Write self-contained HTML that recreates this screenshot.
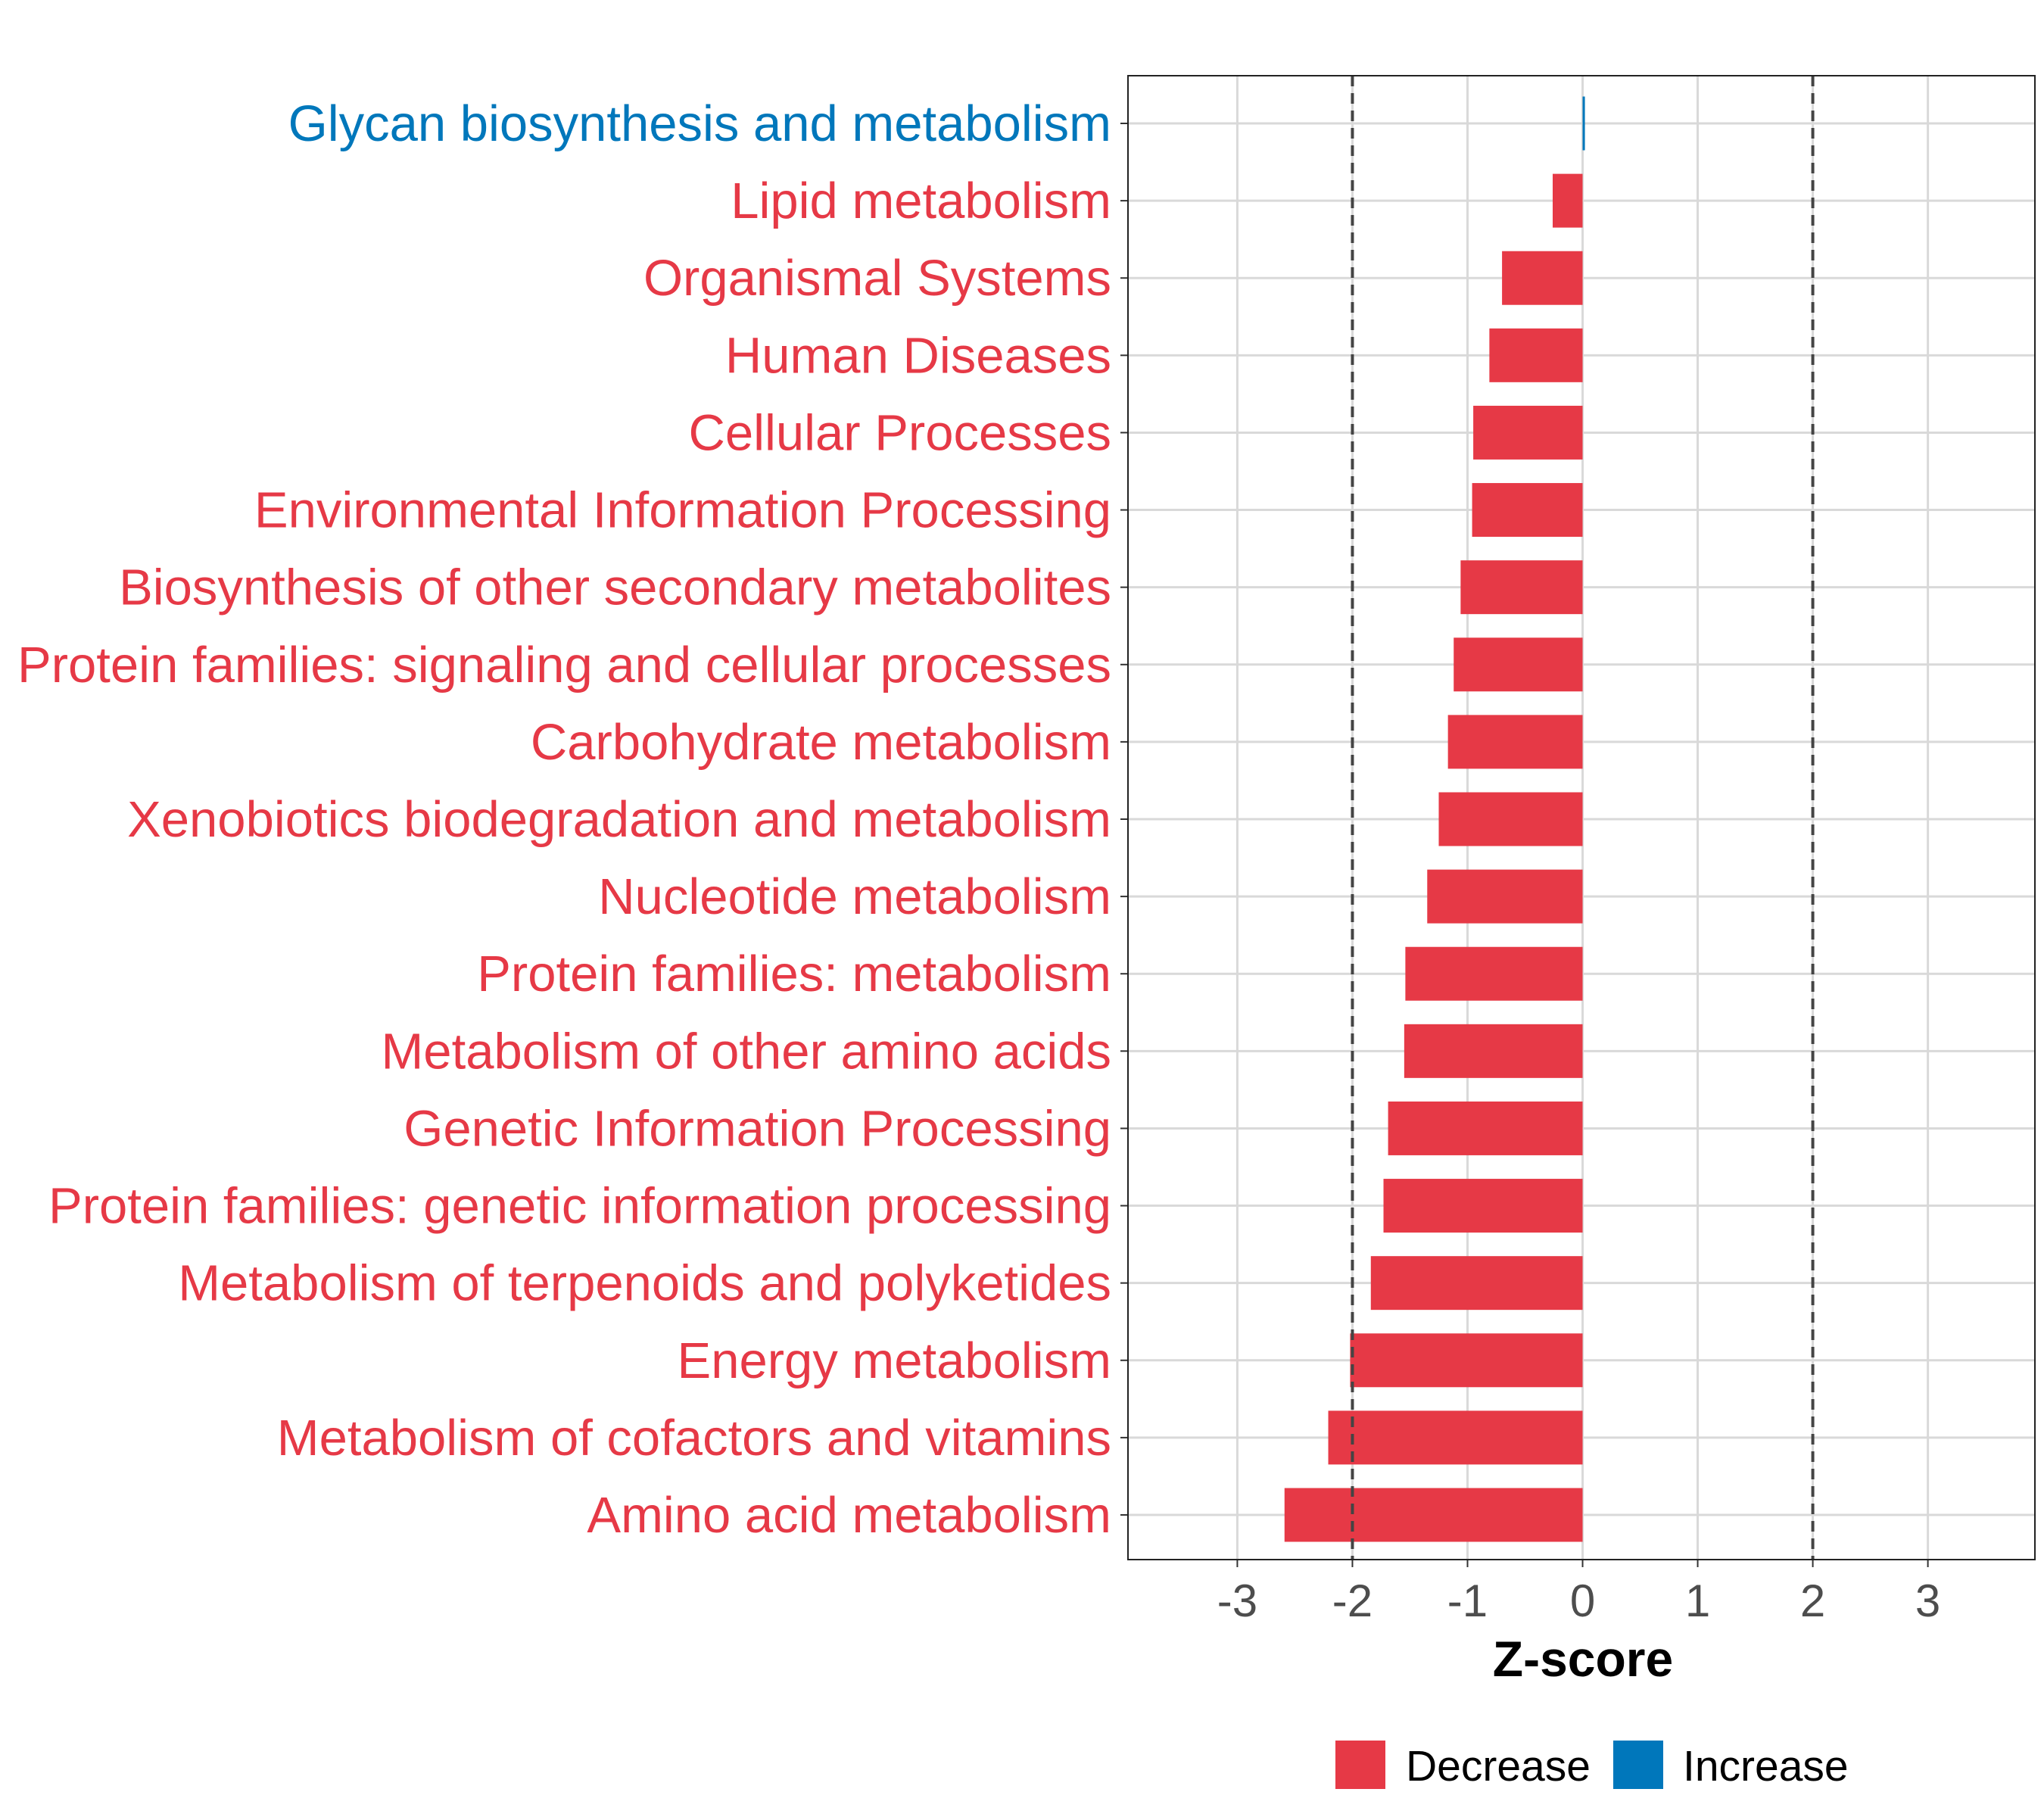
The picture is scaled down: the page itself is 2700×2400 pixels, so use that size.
<!DOCTYPE html>
<html><head><meta charset="utf-8"><style>
html,body{margin:0;padding:0;background:#fff}
svg{display:block;font-family:"Liberation Sans",Arial,sans-serif}
</style></head><body>
<svg id="chart" width="2700" height="2400" viewBox="0 0 2700 2400" xmlns="http://www.w3.org/2000/svg">
<g id="grid"></g>
<g id="bars"></g>
<g id="ylabels"></g>
<g id="xticks"></g>
<rect x="1490" y="100" width="1198" height="1960" fill="none" stroke="#222" stroke-width="2"/>
<text x="2091" y="2214" text-anchor="middle" font-size="66" font-weight="bold" fill="#000">Z-score</text>
<g>
<rect x="1764" y="2299" width="66" height="64" fill="#E63946"/>
<text x="1857" y="2352" font-size="57" fill="#000">Decrease</text>
<rect x="2131" y="2299" width="66" height="64" fill="#0077BB"/>
<text x="2223" y="2352" font-size="57" fill="#000">Increase</text>
</g>
</svg>
<script>
const categories = ["Glycan biosynthesis and metabolism","Lipid metabolism","Organismal Systems","Human Diseases","Cellular Processes","Environmental Information Processing","Biosynthesis of other secondary metabolites","Protein families: signaling and cellular processes","Carbohydrate metabolism","Xenobiotics biodegradation and metabolism","Nucleotide metabolism","Protein families: metabolism","Metabolism of other amino acids","Genetic Information Processing","Protein families: genetic information processing","Metabolism of terpenoids and polyketides","Energy metabolism","Metabolism of cofactors and vitamins","Amino acid metabolism"];
const zscores = [0.02,-0.26,-0.70,-0.81,-0.95,-0.96,-1.06,-1.12,-1.17,-1.25,-1.35,-1.54,-1.55,-1.69,-1.73,-1.84,-2.02,-2.21,-2.59];
const xTicks = [-3,-2,-1,0,1,2,3];
const thresholds = [-2,2];
const NS="http://www.w3.org/2000/svg";
const L=1490,R=2688,T=100,B=2060,xmin=-3.95,xmax=3.93;
const x=v=>L+(v-xmin)/(xmax-xmin)*(R-L);
const step=(2001-163)/(categories.length-1);
const y=i=>163+i*step;
const bh=71;
function mk(tag,attrs,parent){const e=document.createElementNS(NS,tag);for(const k in attrs)e.setAttribute(k,attrs[k]);parent.appendChild(e);return e;}
const grid=document.getElementById('grid'),bars=document.getElementById('bars'),yl=document.getElementById('ylabels'),xt=document.getElementById('xticks');
xTicks.forEach(t=>{
 const g=mk('line',{x1:x(t),x2:x(t),y1:T,y2:B,stroke:'#d9d9d9','stroke-width':3},grid);
 
 
 const tk=mk('line',{x1:x(t),x2:x(t),y1:B,y2:B+10,stroke:'#333','stroke-width':2},xt);
 
 
 const tl=mk('text',{x:x(t),y:B+75,'text-anchor':'middle','font-size':60,fill:'#4d4d4d'},xt);
 tl.textContent=String(t);
 
 
});
categories.forEach((c,i)=>{
 const gl=mk('line',{x1:L,x2:R,y1:y(i),y2:y(i),stroke:'#d9d9d9','stroke-width':3},grid);
 
 
 const v=zscores[i];
 const col=v>=0?'#0077BB':'#E63946';
 const r=mk('rect',{x:Math.min(x(0),x(v)),y:y(i)-bh/2,width:Math.max(Math.abs(x(v)-x(0)),2),height:bh,fill:col},bars);
 
 
 const tk=mk('line',{x1:L-10,x2:L,y1:y(i),y2:y(i),stroke:'#333','stroke-width':2},yl);
 
 
 const t=mk('text',{x:1468,y:y(i)+23,'text-anchor':'end','font-size':67,fill:col},yl);
 t.textContent=c;
 
 
});
thresholds.forEach(t=>{
 const d=mk('line',{x1:x(t),x2:x(t),y1:T,y2:B,stroke:'#444','stroke-width':4,'stroke-dasharray':'14,9'},bars);
 
 
});
</script>
</body></html>
